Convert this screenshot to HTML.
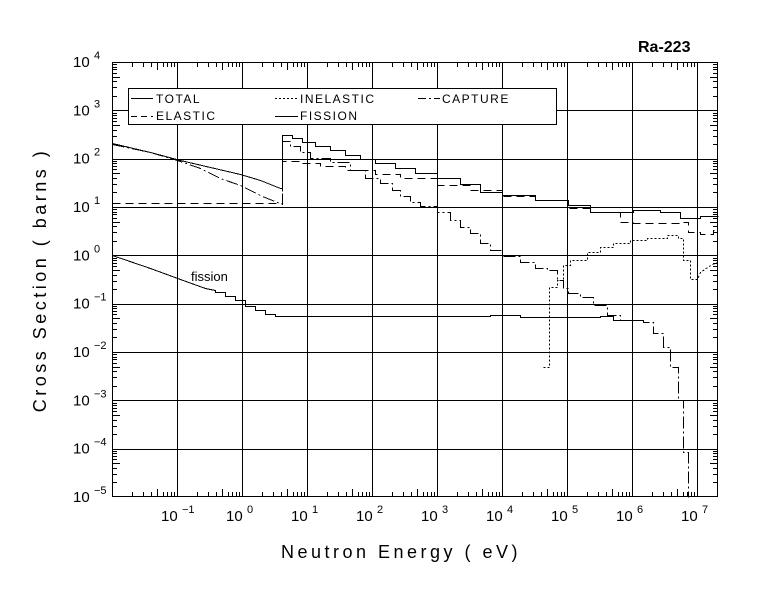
<!DOCTYPE html>
<html><head><meta charset="utf-8"><style>
html,body{margin:0;padding:0;background:#fff;}
svg{display:block;}
text{font-family:"Liberation Sans",sans-serif;fill:#000;}
.t{font-size:15px;}
.e{font-size:11px;}
</style></head><body>
<svg id="s" width="780" height="590" viewBox="0 0 780 590" xmlns="http://www.w3.org/2000/svg" shape-rendering="crispEdges">
<rect width="780" height="590" fill="#fff"/>
<g id="grid" stroke="#000" stroke-width="1" fill="none"></g>
<rect x="112.5" y="62.5" width="605" height="434" fill="none" stroke="#000" stroke-width="1"/>
<rect x="128.5" y="88.5" width="428" height="36" fill="#fff" stroke="#000"/>
<g stroke="#000" fill="none">
<line x1="131" y1="98.5" x2="153" y2="98.5"/>
<line x1="131" y1="116.5" x2="153" y2="116.5" stroke-dasharray="6,4"/>
<line x1="275" y1="98.5" x2="298" y2="98.5" stroke-dasharray="2,2"/>
<line x1="275" y1="116.5" x2="298" y2="116.5"/>
<line x1="418" y1="98.5" x2="440" y2="98.5" stroke-dasharray="8,3,2,3"/>
</g>
<g style="font-size:12px;letter-spacing:1.5px" >
<text x="156" y="103">TOTAL</text>
<text x="156" y="120">ELASTIC</text>
<text x="300" y="103">INELASTIC</text>
<text x="300" y="120">FISSION</text>
<text x="442" y="103">CAPTURE</text>
</g>
<g fill="none" stroke="#000" stroke-width="1" transform="translate(0.5,0.5)">
<polyline points="112,143 150,152 180,160 210,167 240,174 260,180 280,188 282,188 282,135 292,135 292,138 302,138 302,142 315,142 315,146 330,146 330,150 345,150 345,155 360,155 360,159 375,159 375,163 395,163 395,168 415,168 415,173 437,173 437,178 460,178 460,184 480,184 480,192 502,192 502,195 535,195 535,200 568,200 568,205 590,205 590,212 633,212 633,210 660,210 660,212 680,212 680,218 700,218 700,216 718,216"/>
<polyline stroke-dasharray="8,5" points="112,203 280,203 282,203 282,161 300,161 300,163 320,163 320,166 345,166 345,170 375,170 375,174 400,174 400,178 437,178 437,185 470,185 470,190 502,190 502,196 535,196 535,200 568,200 568,208 590,208 590,212 620,212 620,222 633,222 633,223 680,223 680,222 688,222 688,232 700,232 700,234 713,234 713,230 718,230"/>
<polyline stroke-dasharray="12,3,2,3" points="112,144 150,152 177,160 200,168 220,178 240,185 262,196 272,200 282,204 282,141 290,141 290,146 300,146 300,152 310,152 310,158 330,158 330,162 350,162 350,170 365,170 365,178 380,178 380,183 392,183 392,190 400,190 400,196 410,196 410,202 420,202 420,206 437,206 437,212 450,212 450,220 460,220 460,227 470,227 470,233 480,233 480,243 490,243 490,250 502,250 502,256 520,256 520,262 535,262 535,268 547,268 547,270 557,270 557,280 563,280 563,288 568,288 568,293 580,293 580,297 593,297 593,305 607,305 607,315 620,315 620,320 643,320 643,322 653,322 653,333 663,333 663,347 670,347 670,367 678,367 678,400 683,400 683,452 688,452 688,497"/>
<polyline stroke-dasharray="2,2" points="543,367 549,367 549,287 557,287 557,280 563,280 563,265 570,265 570,260 587,260 587,252 600,252 600,247 613,247 613,243 630,243 630,240 647,240 647,238 667,238 667,235 678,235 678,238 683,238 683,260 690,260 690,279 697,279 700,272 707,267 712,264 717,262"/>
<polyline points="112,255 150,268 180,279 205,288 215,290 215,292 225,292 225,296 235,296 235,300 245,300 245,306 255,306 255,310 265,310 265,314 275,314 275,316 490,316 490,315 520,315 520,317 600,317 600,316 613,316 613,320 643,320"/>
</g>
<text x="191" y="281" style="font-size:13px">fission</text>
<text x="638" y="52" style="font-size:16px;font-weight:bold">Ra-223</text>
<g id="lab"></g>
<text transform="translate(46,280) rotate(-90)" text-anchor="middle" style="font-size:18px;letter-spacing:3.5px">Cross Section ( barns )</text>
<text x="401" y="558" text-anchor="middle" style="font-size:18px;letter-spacing:3.5px">Neutron Energy (  eV)</text>
</svg>
<script>
var NS="http://www.w3.org/2000/svg",g=document.getElementById('grid'),lab=document.getElementById('lab');
function L(x1,y1,x2,y2){var l=document.createElementNS(NS,'line');l.setAttribute('x1',x1);l.setAttribute('y1',y1);l.setAttribute('x2',x2);l.setAttribute('y2',y2);g.appendChild(l);}
function T(x,y,s,c){var t=document.createElementNS(NS,'text');t.setAttribute('x',x);t.setAttribute('y',y);t.setAttribute('class',c);t.textContent=s;lab.appendChild(t);}
var X=function(l){return 112+65*(l+2);},Y=function(l){return 62+48.33*(4-l);};
for(var d=-1;d<=7;d++){var x=Math.round(X(d))+0.5;L(x,62,x,497);}
for(var d=-4;d<=3;d++){var y=Math.round(Y(d))+0.5;L(112,y,718,y);}
for(var d=-2;d<=7;d++)for(var k=2;k<=9;k++){var x=X(d+Math.log10(k));if(x>718)break;x=Math.round(x)+0.5;var h=(k==5?8:5);L(x,497,x,497-h);L(x,62,x,62+h);}
for(var d=-5;d<4;d++)for(var k=2;k<=9;k++){var y=Math.round(Y(d+Math.log10(k)))+0.5;var h=(k==5?8:5);L(112,y,112+h,y);L(718,y,718-h,y);}
for(var d=-5;d<=4;d++){var y=Y(d);T(73,y+5,'10','t');T(94,y-3,String(d).replace('-','\u2212'),'e');}
for(var d=-1;d<=7;d++){var x=X(d);T(x-16,521,'10','t');T(x+5,513,String(d).replace('-','\u2212'),'e');}
</script>
</body></html>
